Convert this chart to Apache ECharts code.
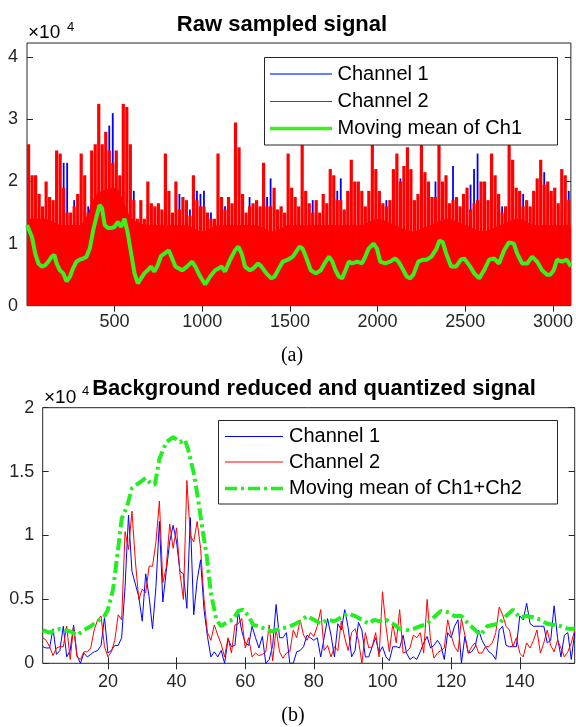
<!DOCTYPE html>
<html>
<head>
<meta charset="utf-8">
<script src="https://cdn.jsdelivr.net/npm/echarts@6/dist/echarts.min.js"></script>
<style>
  html, body { margin: 0; padding: 0; background: #fff; }
  #main { width: 576px; height: 727px; }
</style>
</head>
<body>
<div id="main"></div>
<script>
// (a) raw signal, values in units of 1e4, one peak per bin of 20 samples
var topBinSize = 20
var topRed = [
  2.6, 2.1, 2.1, 1.8, 1.6, 2.0, 1.75, 1.7, 2.5, 2.45, 1.9, 1.5, 1.5, 1.6, 1.8, 2.45, 2.1, 1.5, 2.5, 2.6,
  3.25, 2.6, 2.8, 2.5, 2.3, 2.5, 2.1, 3.25, 3.2, 2.6, 1.7, 1.4, 1.7, 1.4, 2.0, 1.65, 1.6, 1.65, 1.55,
  2.45, 1.85, 1.5, 2.0, 1.55, 1.75, 1.7, 1.45, 2.1, 1.7, 1.6, 1.6, 1.5, 1.4, 1.4, 2.45, 1.75, 1.55, 1.75, 1.65,
  2.95, 2.55, 1.8, 1.5, 1.6, 1.65, 1.7, 1.6, 2.3, 1.6, 1.6, 1.9, 1.55, 1.6, 1.5, 2.45, 1.9, 1.75, 1.6,
  2.8, 1.85, 1.65, 1.5, 1.7, 1.5, 1.8, 1.65, 2.2, 2.1, 1.7, 1.7, 1.55, 1.85, 2.35, 2.0, 2.0, 1.85, 1.6, 1.85,
  2.9, 2.2, 1.85, 1.65, 1.6, 1.7, 2.2, 2.45, 2.0, 2.25, 2.55, 2.2, 1.7, 1.8, 2.8, 2.15, 2.0, 1.75, 1.75,
  2.8, 2.0, 2.1, 1.65, 1.7, 1.75, 1.6, 1.8, 1.9, 1.55, 1.65, 1.7, 2.0, 2.0, 1.7, 2.45, 2.1, 1.8, 1.5, 1.6,
  2.8, 2.35, 1.9, 1.85, 1.6, 1.7, 1.6, 1.85, 2.05, 2.35, 1.95, 2.0, 1.85, 1.9, 1.65, 2.2, 2.1, 1.7
]
var topBlue = [
  1.4, 1.3, 1.5, 1.5, 1.2, 1.4, 1.3, 1.4, 1.9, 1.3, 2.3, 2.3, 1.2, 1.7, 1.4, 1.3, 1.5, 1.6, 1.4, 1.6,
  1.9, 1.8, 2.0, 2.9, 3.1, 2.0, 1.8, 2.4, 2.7, 2.4, 1.85, 1.2, 1.4, 1.3, 1.5, 1.2, 1.3, 1.4, 1.5,
  1.3, 1.4, 1.2, 1.5, 1.8, 1.3, 1.2, 1.55, 1.4, 1.85, 1.8, 1.85, 1.3, 1.5, 1.2, 1.4, 1.3, 1.6, 1.4, 1.3,
  1.5, 1.4, 1.3, 1.2, 1.75, 1.4, 1.3, 1.4, 2.2, 1.75, 2.05, 1.5, 1.3, 1.4, 1.2, 1.5, 1.4, 1.3, 1.4,
  1.5, 1.3, 1.4, 1.7, 1.3, 1.4, 1.2, 1.5, 1.4, 1.3, 1.85, 2.05, 1.4, 1.3, 1.5, 1.4, 1.3, 1.5, 1.4, 1.3,
  1.6, 1.4, 1.3, 1.5, 1.7, 1.4, 1.85, 1.5, 2.05, 1.4, 1.5, 1.3, 1.4, 1.5, 1.4, 1.3, 1.5, 1.4, 2.0,
  1.4, 1.5, 1.3, 1.4, 2.25, 1.4, 1.3, 1.5, 1.4, 1.95, 2.2, 2.45, 1.5, 1.4, 1.3, 1.5, 1.4, 1.3, 1.6, 1.4,
  1.5, 1.4, 1.3, 1.5, 1.8, 1.4, 1.3, 1.5, 1.4, 1.5, 2.15, 1.4, 1.3, 1.5, 1.4, 1.5, 1.3, 1.85
]
// level up to which the red trace looks solid, one value per 100 samples
var topRedFloorX = [0, 100, 200, 300, 400, 500, 600, 700, 800, 900, 1000, 1100, 1200, 1300, 1400, 1500,
  1600, 1700, 1800, 1900, 2000, 2100, 2200, 2300, 2400, 2500, 2600, 2700, 2800, 2900, 3000, 3102]
var topRedFloor = [1.4, 1.4, 1.3, 1.3, 1.8, 1.9, 1.4, 1.3, 1.3, 1.3, 1.2, 1.3, 1.3, 1.3, 1.2, 1.3,
  1.3, 1.3, 1.3, 1.3, 1.4, 1.3, 1.2, 1.3, 1.4, 1.3, 1.2, 1.3, 1.4, 1.3, 1.3, 1.3]
// moving mean of Ch1: [sample, value]
var topMean = [
  [1,1.30],[29,1.11],[48,0.84],[66,0.68],[85,0.63],[104,0.65],[123,0.71],[142,0.79],[157,0.82],[170,0.68],
  [189,0.57],[208,0.52],[227,0.39],[246,0.47],[265,0.61],[283,0.71],[302,0.74],[321,0.76],[340,0.79],[359,0.92],
  [378,1.21],[397,1.43],[415,1.62],[429,1.57],[444,1.30],[463,1.25],[482,1.25],[500,1.27],[519,1.35],[538,1.27],
  [557,1.40],[576,1.16],[595,0.84],[614,0.52],[633,0.36],[651,0.44],[670,0.52],[689,0.57],[708,0.63],[727,0.55],
  [746,0.65],[765,0.80],[784,0.84],[810,0.89],[847,0.63],[885,0.57],[913,0.63],[942,0.71],[961,0.63],[989,0.47],
  [1017,0.34],[1045,0.47],[1074,0.57],[1093,0.60],[1111,0.63],[1130,0.55],[1159,0.74],[1187,0.89],[1206,0.95],[1225,0.84],
  [1244,0.63],[1272,0.57],[1291,0.60],[1319,0.68],[1338,0.63],[1366,0.52],[1394,0.44],[1413,0.47],[1432,0.57],[1460,0.71],
  [1489,0.74],[1517,0.79],[1555,0.95],[1572,0.92],[1591,0.79],[1619,0.57],[1647,0.52],[1676,0.57],[1704,0.71],[1723,0.79],
  [1742,0.71],[1760,0.57],[1779,0.47],[1798,0.44],[1817,0.57],[1836,0.71],[1855,0.68],[1883,0.71],[1911,0.68],[1930,0.79],
  [1949,0.92],[1977,1.00],[1996,0.92],[2015,0.71],[2043,0.68],[2072,0.71],[2100,0.76],[2119,0.71],[2147,0.57],[2166,0.47],
  [2185,0.44],[2204,0.50],[2232,0.71],[2260,0.74],[2279,0.74],[2307,0.79],[2336,0.92],[2353,1.05],[2372,1.02],[2391,0.84],
  [2419,0.63],[2447,0.63],[2475,0.74],[2494,0.76],[2523,0.65],[2551,0.52],[2579,0.44],[2607,0.57],[2636,0.74],[2664,0.76],
  [2692,0.68],[2721,0.89],[2749,1.02],[2777,1.00],[2796,0.84],[2824,0.68],[2853,0.68],[2881,0.79],[2909,0.71],[2938,0.57],
  [2966,0.50],[2985,0.50],[3004,0.57],[3023,0.74],[3051,0.71],[3079,0.74],[3102,0.63]
]
var topXTicks = [500, 1000, 1500, 2000, 2500, 3000]
var topYTicks = [0, 1, 2, 3, 4]

// (b) background reduced signal, samples 1..156, units of 1e4
var botBlue = [
  0.13, 0.12, 0.12, 0.27, 0.07, 0.1, 0.29, 0.05, 0.1, 0.3,
  0.06, 0.0, 0.08, 0.05, 0.07, 0.09, 0.1, 0.14, 0.36, 0.08,
  0.1, 0.14, 0.14, 0.2, 0.6, 1.16, 0.72, 0.62, 0.52, 0.33,
  0.7, 0.52, 0.27, 0.6, 1.11, 0.48, 0.72, 0.95, 1.08, 0.95,
  0.72, 0.7, 0.43, 1.14, 0.38, 0.65, 0.81, 0.42, 0.21, 0.05,
  0.09, 0.05, 0.1, 0.0, 0.19, 0.13, 0.14, 0.41, 0.25, 0.16,
  0.14, 0.29, 0.2, 0.12, 0.21, 0.0, 0.03, 0.14, 0.46, 0.2,
  0.2, 0.24, 0.0, 0.0, 0.09, 0.1, 0.13, 0.22, 0.2, 0.18,
  0.2, 0.05, 0.2, 0.35, 0.22, 0.05, 0.31, 0.26, 0.42, 0.28,
  0.05, 0.1, 0.32, 0.26, 0.05, 0.05, 0.13, 0.2, 0.08, 0.13,
  0.05, 0.02, 0.13, 0.13, 0.12, 0.22, 0.08, 0.03, 0.05, 0.03,
  0.09, 0.16, 0.21, 0.12, 0.14, 0.18, 0.14, 0.03, 0.24, 0.2,
  0.29, 0.34, 0.0, 0.21, 0.08, 0.09, 0.13, 0.26, 0.18, 0.13,
  0.09, 0.07, 0.03, 0.26, 0.29, 0.14, 0.13, 0.13, 0.13, 0.37,
  0.34, 0.47, 0.31, 0.29, 0.29, 0.29, 0.29, 0.16, 0.18, 0.45,
  0.2, 0.05, 0.22, 0.24, 0.03, 0.24
]
var botRed = [
  0.2, 0.18, 0.13, 0.06, 0.12, 0.13, 0.13, 0.29, 0.03, 0.29,
  0.05, 0.03, 0.09, 0.09, 0.12, 0.26, 0.34, 0.37, 0.13, 0.05,
  0.09, 0.18, 0.38, 0.34, 1.03, 0.89, 1.19, 0.8, 0.5, 0.58,
  0.55, 0.76, 0.76, 0.95, 1.27, 0.63, 0.75, 1.09, 0.9, 1.06,
  0.7, 0.5, 1.43, 1.0, 0.95, 1.11, 0.9, 0.5, 0.24, 0.18,
  0.3, 0.22, 0.15, 0.05, 0.2, 0.08, 0.3, 0.31, 0.35, 0.12,
  0.2, 0.05, 0.08, 0.06, 0.07, 0.09, 0.3, 0.02, 0.27, 0.09,
  0.04, 0.08, 0.09, 0.26, 0.2, 0.34, 0.22, 0.18, 0.24, 0.21,
  0.29, 0.42, 0.1, 0.14, 0.05, 0.13, 0.1, 0.33, 0.2, 0.1,
  0.24, 0.27, 0.18, 0.0, 0.24, 0.12, 0.13, 0.24, 0.05, 0.56,
  0.29, 0.09, 0.31, 0.16, 0.42, 0.08, 0.09, 0.12, 0.22, 0.2,
  0.24, 0.08, 0.5, 0.18, 0.04, 0.08, 0.1, 0.12, 0.34, 0.22,
  0.13, 0.09, 0.35, 0.22, 0.08, 0.13, 0.16, 0.08, 0.08, 0.13,
  0.13, 0.16, 0.24, 0.44, 0.38, 0.29, 0.26, 0.13, 0.2, 0.08,
  0.05, 0.16, 0.12, 0.18, 0.26, 0.08, 0.16, 0.26, 0.14, 0.09,
  0.18, 0.12, 0.05, 0.09, 0.16, 0.26
]
// moving mean of Ch1+Ch2: [sample, value]
var botMean = [
  [1,0.26],[3,0.24],[6,0.27],[9,0.25],[11,0.22],[13,0.26],[15,0.29],[17,0.33],[19,0.37],[20,0.42],
  [21.5,0.58],[23,0.9],[24,1.13],[25.6,1.23],[27,1.37],[29,1.41],[31,1.45],[32.7,1.40],[33.7,1.40],[35,1.6],
  [37,1.73],[39,1.77],[41,1.73],[42.4,1.75],[43.4,1.67],[45,1.49],[46.3,1.28],[47.7,1.02],[48.7,0.86],[50,0.55],
  [51.6,0.34],[53,0.29],[55,0.33],[56.4,0.34],[58,0.41],[59.3,0.42],[61,0.37],[62.3,0.30],[64.3,0.29],[66.3,0.26],
  [68,0.25],[70,0.27],[72,0.28],[74,0.3],[76,0.33],[78,0.37],[80,0.34],[82,0.31],[84,0.34],[86,0.33],
  [88,0.36],[90,0.39],[92,0.37],[94,0.34],[96,0.31],[97.5,0.34],[99,0.33],[101,0.34],[103,0.31],[105,0.27],
  [107,0.26],[109,0.27],[111,0.29],[113,0.31],[115,0.36],[117,0.41],[119,0.40],[121,0.37],[123,0.37],[125,0.31],
  [127,0.26],[128.5,0.22],[130.5,0.29],[132,0.30],[134,0.31],[136,0.37],[138,0.42],[140,0.36],[142,0.37],[144,0.36],
  [146,0.34],[148,0.31],[150,0.30],[152,0.29],[154,0.27],[156,0.27]
]
var botXTicks = [20, 40, 60, 80, 100, 120, 140]
var botYTicks = [0, 0.5, 1, 1.5, 2]

var FONT = '"Liberation Sans", Arial, Helvetica, sans-serif'
var AX = '#262626'

var myChart = echarts.init(document.getElementById('main'), null, { renderer: 'canvas' })

// bins are drawn at their centre sample
var binX = topRed.map(function (v, i) { return i * topBinSize + topBinSize / 2 })
var botX = botRed.map(function (v, i) { return i + 1 })

function zip(xs, ys) {
  return xs.map(function (x, i) { return [x, ys[i]] })
}

function plain(v) { return String(v) }

function xAx(grid, pos, min, max, ticks, labels, margin) {
  return {
    type: 'value', gridIndex: grid, position: pos, min: min, max: max,
    axisLine: { show: false },
    axisTick: { show: true, inside: true, length: 6, customValues: ticks, lineStyle: { color: AX } },
    axisLabel: { show: labels, customValues: ticks, formatter: plain, fontSize: 18, fontFamily: FONT, color: AX, margin: margin },
    splitLine: { show: false }
  }
}
function yAx(grid, pos, min, max, ticks, labels, margin) {
  return {
    type: 'value', gridIndex: grid, position: pos, min: min, max: max,
    axisLine: { show: false },
    axisTick: { show: true, inside: true, length: 6, customValues: ticks, lineStyle: { color: AX } },
    axisLabel: { show: labels, customValues: ticks, formatter: plain, fontSize: 18, fontFamily: FONT, color: AX, margin: margin },
    splitLine: { show: false }
  }
}

function txt(x, y, s, font, align) {
  return {
    type: 'text', x: x, y: y, z: 100,
    style: { text: s, font: font, fill: '#000', align: align || 'left', verticalAlign: 'middle' }
  }
}
function seg(x1, x2, y, color, w, dash) {
  return {
    type: 'line', z: 101,
    shape: { x1: x1, y1: y, x2: x2, y2: y },
    style: { stroke: color, lineWidth: w, lineDash: dash || null }
  }
}

var options = {
  animation: false,
  grid: [
    { left: 27, top: 43, width: 548, height: 262.7, show: true, borderColor: AX, borderWidth: 1, backgroundColor: '#fff' },
    { left: 42.7, top: 407.7, width: 532, height: 255.6, show: true, borderColor: AX, borderWidth: 1, backgroundColor: '#fff' }
  ],
  xAxis: [
    xAx(0, 'bottom', 1, 3102, topXTicks, true, 7),
    xAx(0, 'top', 1, 3102, topXTicks, false, 7),
    xAx(1, 'bottom', 1, 156, botXTicks, true, 9.5),
    xAx(1, 'top', 1, 156, botXTicks, false, 9.5)
  ],
  yAxis: [
    yAx(0, 'left', 0, 4.23, topYTicks, true, 9),
    yAx(0, 'right', 0, 4.23, topYTicks, false, 9),
    yAx(1, 'left', 0, 2, botYTicks, true, 8.5),
    yAx(1, 'right', 0, 2, botYTicks, false, 8.5)
  ],
  series: [
    {
      name: 'Channel 2 base', type: 'line', xAxisIndex: 0, yAxisIndex: 0, z: 1,
      data: zip(topRedFloorX, topRedFloor), showSymbol: false, smooth: 0.3,
      lineStyle: { width: 0 }, areaStyle: { color: '#ff0000', opacity: 1 }, silent: true
    },
    {
      name: 'Channel 1', type: 'bar', xAxisIndex: 1, yAxisIndex: 0, z: 2,
      barWidth: 1.8, data: zip(binX, topBlue), itemStyle: { color: '#0000ff' }, silent: true
    },
    {
      name: 'Channel 2', type: 'bar', xAxisIndex: 0, yAxisIndex: 0, z: 3,
      barWidth: 3.2, data: zip(binX, topRed), itemStyle: { color: '#ff0000' }, silent: true
    },
    {
      name: 'Moving mean of Ch1', type: 'line', xAxisIndex: 0, yAxisIndex: 0, z: 4,
      data: topMean, showSymbol: false, lineStyle: { color: '#3cf01e', width: 4 }, silent: true
    },
    {
      name: 'Channel 1 (b)', type: 'line', xAxisIndex: 2, yAxisIndex: 2, z: 2,
      data: zip(botX, botBlue), showSymbol: false, lineStyle: { color: '#0000ff', width: 1 }, silent: true
    },
    {
      name: 'Channel 2 (b)', type: 'line', xAxisIndex: 2, yAxisIndex: 2, z: 3,
      data: zip(botX, botRed), showSymbol: false, lineStyle: { color: '#ff0000', width: 1 }, silent: true
    },
    {
      name: 'Moving mean of Ch1+Ch2', type: 'line', xAxisIndex: 2, yAxisIndex: 2, z: 4,
      data: botMean, showSymbol: false,
      lineStyle: { color: '#22ee22', width: 4, type: [12, 4, 3, 4] }, silent: true
    }
  ],
  graphic: [
    // titles and exponents
    txt(282, 25, 'Raw sampled signal', 'bold 22px ' + FONT, 'center'),
    txt(28, 33, '×10', '19px ' + FONT),
    txt(67, 27, '4', '13px ' + FONT),
    txt(292, 356, '(a)', '20px "Liberation Serif", "Times New Roman", serif', 'center'),
    txt(314, 389, 'Background reduced and quantized signal', 'bold 22px ' + FONT, 'center'),
    txt(44, 398, '×10', '19px ' + FONT),
    txt(82, 391, '4', '13px ' + FONT),
    txt(293, 716, '(b)', '20px "Liberation Serif", "Times New Roman", serif', 'center'),
    // legend (a)
    {
      type: 'rect', z: 100,
      shape: { x: 264.5, y: 57.5, width: 293, height: 87.5 },
      style: { fill: '#fff', stroke: AX, lineWidth: 1 }
    },
    seg(270, 332, 74, '#3355ff', 1.5),
    seg(270, 332, 101.5, '#ff0000', 1),
    seg(270, 332, 128.5, '#3cf01e', 3.5),
    txt(337.5, 74, 'Channel 1', '20px ' + FONT),
    txt(337.5, 101, 'Channel 2', '20px ' + FONT),
    txt(337.5, 128, 'Moving mean of Ch1', '20px ' + FONT),
    // legend (b)
    {
      type: 'rect', z: 100,
      shape: { x: 218.5, y: 420.5, width: 339, height: 83.5 },
      style: { fill: '#fff', stroke: AX, lineWidth: 1 }
    },
    seg(225, 283, 436.5, '#0000ff', 1),
    seg(225, 283, 462, '#ff0000', 1),
    seg(225, 283, 488.5, '#22ee22', 3.5, [12, 4, 3, 4]),
    txt(289, 436, 'Channel 1', '20px ' + FONT),
    txt(289, 462, 'Channel 2', '20px ' + FONT),
    txt(289, 488, 'Moving mean of Ch1+Ch2', '20px ' + FONT)
  ]
}

myChart.setOption(options)
</script>
</body>
</html>
